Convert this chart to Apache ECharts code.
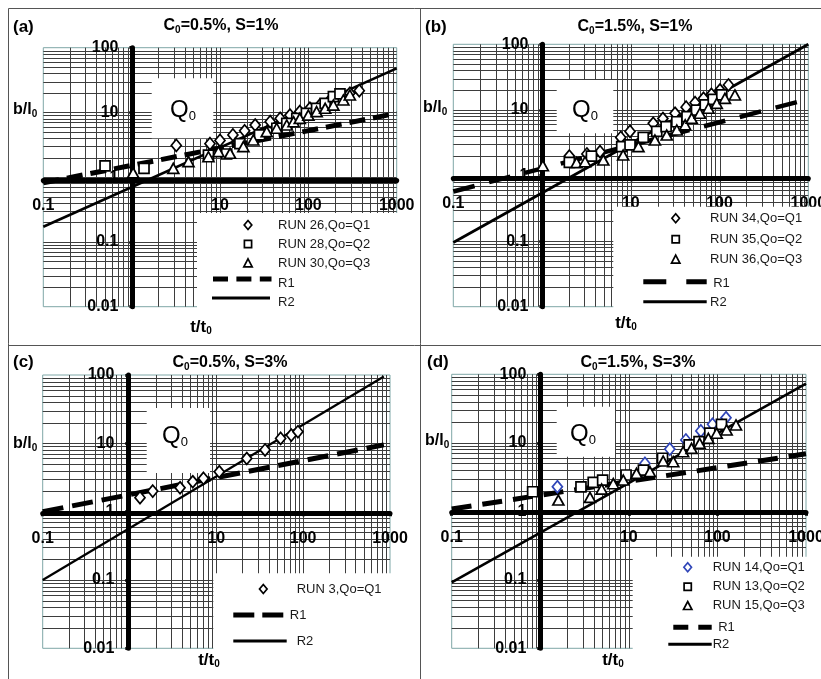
<!DOCTYPE html>
<html>
<head>
<meta charset="utf-8">
<title>b/l0 versus t/t0</title>
<script src="https://cdn.jsdelivr.net/npm/echarts@6.0.0/dist/echarts.min.js"></script>
<style>
  html, body { margin: 0; padding: 0; background: #fff; }
  #chart { width: 821px; height: 679px; }
</style>
</head>
<body>
<div id="chart"></div>
<script>
// ---- axis decades and their tick labels ----
const xRange = [0.1, 1000];
const yRange = [0.01, 100];
const xTickLabels = ['0.1', '1', '10', '100', '1000'];   // 10^-1 .. 10^3
const yTickLabels = ['0.01', '0.1', '1', '10', '100'];   // 10^-2 .. 10^2

// ---- panel captions ----
const panelTags = ['(a)', '(b)', '(c)', '(d)'];
const panelC0 = ['0.5%', '1.5%', '0.5%', '1.5%'];
const panelS = ['1%', '1%', '3%', '3%'];

// ---- measured runs, points are [t/t0, b/l0] ----
// (a) C0 = 0.5 %, S = 1 %
const run26 = [[3.2, 3.1], [7.7, 3.3], [10, 3.7], [14, 4.5], [19, 5.2], [25, 6.4], [37, 7.2], [48, 8.1],
  [62, 9.1], [80, 10.3], [104, 11.6], [135, 13], [176, 15.6], [228, 17.5], [295, 19.8], [377, 21.7]];
const run28 = [[0.5, 1.5], [1.38, 1.37], [7.4, 2.2], [11.9, 2.28], [16.8, 3.3], [28, 4.5], [44, 5.7],
  [57, 6.8], [74, 8.1], [95, 9.7], [124, 11.6], [155, 13.8], [192, 17.5], [228, 19.3]];
const run30 = [[1.04, 1.17], [2.96, 1.37], [4.4, 1.74], [7.4, 2.07], [9.6, 2.48], [13, 2.34], [18.4, 2.96],
  [23.8, 3.76], [33.8, 5.05], [43.8, 5.7], [57, 6.4], [68, 7.2], [80, 8.1], [100, 9.1], [124, 10.3],
  [155, 11.6], [192, 13], [249, 15.6], [295, 18.6]];
// (b) C0 = 1.5 %, S = 1 %
const run34 = [[2.03, 1.98], [3.2, 2.13], [4.5, 2.31], [7.7, 3.8], [9.8, 4.7], [17.9, 6.25], [23, 7.4],
  [31.5, 8.9], [42, 11], [53, 12.9], [66, 15], [81, 17.3], [101, 20.1], [126, 24]];
const run35 = [[2.03, 1.59], [3.6, 1.98], [7.9, 2.75], [9.8, 2.92], [13.8, 3.8], [19.6, 4.7], [25, 5.55],
  [33, 6.6], [43, 7.9], [55, 9.95], [69, 11.9], [85, 14.5], [106, 16.9]];
const run36 = [[1.02, 1.41], [2.45, 1.57], [3.05, 1.62], [4.9, 1.72], [8.2, 2.05], [12.2, 2.75], [18.7, 3.47],
  [25.4, 4.14], [33, 4.94], [41, 5.9], [48.5, 7.45], [60, 8.9], [75, 10.6], [93, 12.6], [115, 15], [149, 16.9]];
// (c) C0 = 0.5 %, S = 3 %
const run3 = [[1.32, 1.6], [1.85, 2.0], [3.82, 2.24], [5.35, 2.74], [7.1, 3.07], [10.8, 3.84], [22.4, 6.0],
  [36.4, 8.0], [55, 11.8], [73, 13.2], [87, 14.8]];
// (d) C0 = 1.5 %, S = 3 %
const run14 = [[1.56, 2.28], [15.2, 5.0], [29, 8.1], [44, 11], [65, 14.9], [88, 18.6], [125, 23.2]];
const run13 = [[0.82, 1.93], [2.88, 2.28], [3.96, 2.65], [5.06, 2.86], [9.3, 3.39], [14.6, 4.0], [24, 5.95],
  [48, 9.3], [62, 10.4], [82, 13.8], [111, 18.6]];
const run15 = [[1.6, 1.46], [3.64, 1.6], [4.93, 2.11], [6.67, 2.53], [8.65, 2.86], [12.2, 3.59], [17.3, 3.79],
  [24.4, 5.42], [31.7, 5.3], [41, 7.4], [51, 8.3], [63, 9.8], [79, 11.6], [98, 13.8], [127, 15.4], [162, 18.2]];

// ---- relations R1 and R2 (straight in log-log), end points [t/t0, b/l0] ----
const r1a = [[0.1, 0.82], [1000, 9.7]];
const r2a = [[0.1, 0.172], [1000, 48]];
const r1b = [[0.1, 0.57], [1000, 14.6]];
const r2b = [[0.1, 0.095], [1000, 100]];
const r1c = [[0.1, 1.0], [850, 9.5]];
const r2c = [[0.1, 0.1], [850, 95]];
const r1d = [[0.1, 1.08], [1000, 6.9]];
const r2d = [[0.1, 0.092], [1000, 73]];

// ---- legend texts ----
const namesA = ['RUN 26,Qo=Q1', 'RUN 28,Qo=Q2', 'RUN 30,Qo=Q3'];
const namesB = ['RUN 34,Qo=Q1', 'RUN 35,Qo=Q2', 'RUN 36,Qo=Q3'];
const namesC = ['RUN 3,Qo=Q1'];
const namesD = ['RUN 14,Qo=Q1', 'RUN 13,Qo=Q2', 'RUN 15,Qo=Q3'];
const relationNames = ['R1', 'R2'];

// marker look, in legend order: diamond, square, triangle
const markerKinds = ['diamond', 'rect', 'triangle'];
const markerSizes = [[10, 12], [10, 10], [11, 10]];
const BLUE = '#2f45b8';

// ---- panel layout ----
const panels = [
  {
    runs: [run26, run28, run30], names: namesA, colors: ['#000', '#000', '#000'], r1: r1a, r2: r2a,
    grid: { left: 43.3, top: 47.7, width: 353.4, height: 259 }, drop: 3, shiftX: 0.8,
    r1Dash: [16, 8], r1Width: 5, r2Width: 2.6,
    tag: [13, 27], title: [221, 26], yName: [13, 110], xName: [201, 327],
    qBox: [151.7, 78.3, 61.6, 60], qText: [183, 110],
    cut: [197, 213, 222, 110],
    leg: { mx: 248, tx: 278, ys: [225, 244, 263], r1: [213, 271.5, 279, 283], r2: [212, 270, 298, 302], dash: [15, 8.4] }
  },
  {
    runs: [run34, run35, run36], names: namesB, colors: ['#000', '#000', '#000'], r1: r1b, r2: r2b,
    grid: { left: 453.3, top: 44.3, width: 355, height: 262.4 }, drop: 2.8, shiftX: 0.4,
    r1Dash: [22, 15], r1Width: 4.5, r2Width: 2.8,
    tag: [425, 27], title: [635, 27], yName: [423, 108], xName: [626, 323],
    qBox: [556.7, 80, 56.6, 53.3], qText: [585, 110],
    cut: [613.3, 206.7, 210, 130],
    leg: { mx: 675.7, tx: 710, ys: [218.3, 239.3, 259.3], r1: [643.3, 706.7, 281.7, 283], r2: [643.3, 706.7, 301.7, 302], dash: [23, 20] }
  },
  {
    runs: [run3], names: namesC, colors: ['#000'], r1: r1c, r2: r2c,
    grid: { left: 42.7, top: 375, width: 347.3, height: 273.3 }, drop: 1.6, shiftX: -1.2,
    r1Dash: [21, 9], r1Width: 5, r2Width: 2.2,
    tag: [13, 362], title: [230, 363], yName: [13, 444], xName: [209, 660],
    qBox: [146.7, 408, 63.3, 65], qText: [175, 436],
    cut: [213.3, 573.3, 206, 110],
    leg: { mx: 263.3, tx: 296.7, ys: [589], r1: [233.3, 283.3, 615, 615], r2: [233.3, 286.7, 641, 641], dash: [21, 8] }
  },
  {
    runs: [run14, run13, run15], names: namesD, colors: [BLUE, '#000', '#000'], r1: r1d, r2: r2d,
    grid: { left: 451.7, top: 374.3, width: 354.3, height: 274 }, drop: 1.4, shiftX: 0,
    r1Dash: [20, 11], r1Width: 5, r2Width: 2.6,
    tag: [427, 362], title: [638, 363], yName: [425, 441], xName: [613, 660],
    qBox: [556.7, 406.7, 58.3, 50], qText: [583, 434],
    cut: [632.7, 556.7, 190, 125],
    leg: { mx: 687.7, tx: 712.7, ys: [567.3, 586.7, 605.7], r1: [673.3, 711.7, 627.3, 627.5], r2: [668.3, 711.7, 644.3, 644.5], dash: [15, 10] }
  }
];

const FONT = '"Liberation Sans", Arial, sans-serif';

// grid line positions 2..9 of every decade (plot edges are drawn by the grid frame)
const xGridValues = [];
for (let e = -1; e <= 2; e++) for (let m = 1; m <= 9; m++) if (!(e === -1 && m === 1)) xGridValues.push(m * Math.pow(10, e));
const yGridValues = [];
for (let e = -2; e <= 1; e++) for (let m = 1; m <= 9; m++) if (!(e === -2 && m === 1)) yGridValues.push(m * Math.pow(10, e));

function decadeIndex(v) { return Math.round(Math.log10(v)); }

const grids = [], xAxes = [], yAxes = [], series = [], graphics = [];

panels.forEach(function (p, i) {
  grids.push({
    left: p.grid.left, top: p.grid.top, width: p.grid.width, height: p.grid.height,
    show: true, borderColor: '#7fa7a7', borderWidth: 1, backgroundColor: 'transparent',
    containLabel: false, outerBoundsMode: 'none'
  });
  const axisFont = { fontFamily: FONT, fontWeight: 'bold', fontSize: 16, color: '#000' };
  xAxes.push({
    type: 'log', logBase: 10, gridIndex: i, min: xRange[0], max: xRange[1], splitNumber: 4,
    position: 'bottom', offset: -(p.grid.height / 2) + p.drop, z: 3,
    axisLine: { show: true, onZero: false, lineStyle: { color: '#000', width: 5 } },
    axisTick: { show: true, length: 3, lineStyle: { color: '#000', width: 3 } },
    axisLabel: Object.assign({
      margin: 17, showMinLabel: true, showMaxLabel: true,
      formatter: function (v) { const k = decadeIndex(v); return k === 0 ? '' : xTickLabels[k + 1]; }
    }, axisFont),
    splitLine: { show: false }, minorTick: { show: false }, minorSplitLine: { show: false }
  });
  yAxes.push({
    type: 'log', logBase: 10, gridIndex: i, min: yRange[0], max: yRange[1], splitNumber: 4,
    position: 'left', offset: -(p.grid.width / 4) - p.shiftX, z: 3,
    axisLine: { show: true, onZero: false, lineStyle: { color: '#000', width: 5 } },
    axisTick: { show: true, length: 3, lineStyle: { color: '#000', width: 3 } },
    axisLabel: Object.assign({
      margin: 14, showMinLabel: true, showMaxLabel: true, padding: [3, 0, 0, 0],
      formatter: function (v) { return yTickLabels[decadeIndex(v) + 2]; }
    }, axisFont),
    splitLine: { show: false }, minorTick: { show: false }, minorSplitLine: { show: false }
  });

  // log grid lines
  const gridItems = [];
  xGridValues.forEach(function (v) { gridItems.push([v, 1, 0]); });
  yGridValues.forEach(function (v) { gridItems.push([1, v, 1]); });
  series.push({
    type: 'custom', xAxisIndex: i, yAxisIndex: i, z: 1, silent: true, data: gridItems,
    renderItem: function (params, api) {
      if (api.value(2) === 0) {
        const a = api.coord([api.value(0), yRange[0]]), b = api.coord([api.value(0), yRange[1]]);
        const x = Math.round(a[0]) + 0.5;
        return { type: 'line', shape: { x1: x, y1: a[1], x2: x, y2: b[1] }, style: { stroke: '#3d3d3d', lineWidth: 1 } };
      }
      const a = api.coord([xRange[0], api.value(1)]), b = api.coord([xRange[1], api.value(1)]);
      const y = Math.round(a[1]) + 0.5;
      return { type: 'line', shape: { x1: a[0], y1: y, x2: b[0], y2: y }, style: { stroke: '#3d3d3d', lineWidth: 1 } };
    }
  });

  // R1 and R2
  series.push({
    type: 'line', name: relationNames[0], xAxisIndex: i, yAxisIndex: i, data: p.r1, symbol: 'none', z: 4, silent: true,
    lineStyle: { color: '#000', width: p.r1Width, type: p.r1Dash, cap: 'butt' }
  });
  series.push({
    type: 'line', name: relationNames[1], xAxisIndex: i, yAxisIndex: i, data: p.r2, symbol: 'none', z: 4, silent: true,
    lineStyle: { color: '#000', width: p.r2Width, type: 'solid' }
  });

  // runs
  p.runs.forEach(function (run, k) {
    series.push({
      type: 'scatter', name: p.names[k], xAxisIndex: i, yAxisIndex: i, data: run, z: 5, silent: true,
      symbol: markerKinds[k], symbolSize: markerSizes[k],
      itemStyle: { color: '#fff', borderColor: p.colors[k], borderWidth: 1.7, opacity: 1 }
    });
  });

  // ---- captions ----
  const subRich = function (size, weight, subSize) {
    return {
      m: { fontFamily: FONT, fontSize: size, fontWeight: weight, lineHeight: size + 2, fill: '#000' },
      s: { fontFamily: FONT, fontSize: subSize, fontWeight: weight, lineHeight: size + 2, verticalAlign: 'bottom', fill: '#000' }
    };
  };
  graphics.push({
    type: 'text', x: p.tag[0], y: p.tag[1], z: 8, silent: true,
    style: { text: panelTags[i], fontFamily: FONT, fontSize: 17, fontWeight: 'bold', fill: '#000', align: 'left', verticalAlign: 'middle' }
  });
  graphics.push({
    type: 'text', x: p.title[0], y: p.title[1], z: 8, silent: true,
    style: { text: '{m|C}{s|0}{m|=' + panelC0[i] + ', S=' + panelS[i] + '}', rich: subRich(16, 'bold', 10), align: 'center', verticalAlign: 'middle' }
  });
  graphics.push({
    type: 'text', x: p.yName[0], y: p.yName[1], z: 8, silent: true,
    style: { text: '{m|b/l}{s|0}', rich: subRich(16, 'bold', 10), align: 'left', verticalAlign: 'middle' }
  });
  graphics.push({
    type: 'text', x: p.xName[0], y: p.xName[1], z: 8, silent: true,
    style: { text: '{m|t/t}{s|0}', rich: subRich(17, 'bold', 10), align: 'center', verticalAlign: 'middle' }
  });

  // white Q0 label box over the grid
  graphics.push({
    type: 'rect', z: 2, silent: true,
    shape: { x: p.qBox[0], y: p.qBox[1], width: p.qBox[2], height: p.qBox[3] },
    style: { fill: '#fff', stroke: null }
  });
  graphics.push({
    type: 'text', x: p.qText[0], y: p.qText[1], z: 2, silent: true,
    style: { text: '{m|Q}{s|0}', rich: subRich(24, 'normal', 13), align: 'center', verticalAlign: 'middle' }
  });

  // white legend area in the lower right corner of the plot
  graphics.push({
    type: 'rect', z: 6, silent: true,
    shape: { x: p.cut[0], y: p.cut[1], width: p.cut[2], height: p.cut[3] },
    style: { fill: '#fff', stroke: null }
  });

  // ---- legend ----
  const L = p.leg;
  p.names.forEach(function (name, k) {
    const cx = L.mx, cy = L.ys[k], col = p.colors[k];
    let shape;
    if (k === 0) shape = { type: 'polygon', shape: { points: [[cx, cy - 4.5], [cx + 3.8, cy], [cx, cy + 4.5], [cx - 3.8, cy]] } };
    else if (k === 1) shape = { type: 'rect', shape: { x: cx - 3.6, y: cy - 3.6, width: 7.2, height: 7.2 } };
    else shape = { type: 'polygon', shape: { points: [[cx, cy - 4.2], [cx + 4.2, cy + 3.8], [cx - 4.2, cy + 3.8]] } };
    shape.z = 7; shape.silent = true;
    shape.style = { fill: '#fff', stroke: col, lineWidth: 1.7 };
    graphics.push(shape);
    graphics.push({
      type: 'text', x: L.tx, y: cy, z: 7, silent: true,
      style: { text: name, fontFamily: FONT, fontSize: 13, fill: '#1a1a1a', align: 'left', verticalAlign: 'middle' }
    });
  });
  graphics.push({
    type: 'line', z: 7, silent: true, shape: { x1: L.r1[0], y1: L.r1[2], x2: L.r1[1], y2: L.r1[2] },
    style: { stroke: '#000', lineWidth: 5, lineDash: L.dash, lineCap: 'butt' }
  });
  graphics.push({
    type: 'text', x: L.r1[1] + 6.5, y: L.r1[3], z: 7, silent: true,
    style: { text: relationNames[0], fontFamily: FONT, fontSize: 13, fill: '#1a1a1a', align: 'left', verticalAlign: 'middle' }
  });
  graphics.push({
    type: 'line', z: 7, silent: true, shape: { x1: L.r2[0], y1: L.r2[2], x2: L.r2[1], y2: L.r2[2] },
    style: { stroke: '#000', lineWidth: 3, lineCap: 'butt' }
  });
  graphics.push({
    type: 'text', x: L.tx, y: L.r2[3], z: 7, silent: true,
    style: { text: relationNames[1], fontFamily: FONT, fontSize: 13, fill: '#1a1a1a', align: 'left', verticalAlign: 'middle' }
  });
});

// panel frame lines
[[8.5, 8.5, 821, 8.5], [8.5, 8.5, 8.5, 679], [420.5, 8.5, 420.5, 679], [8.5, 345.5, 821, 345.5]].forEach(function (s) {
  graphics.push({ type: 'line', z: 9, silent: true, shape: { x1: s[0], y1: s[1], x2: s[2], y2: s[3] }, style: { stroke: '#555', lineWidth: 1 } });
});

const chart = echarts.init(document.getElementById('chart'), null, { renderer: 'canvas', width: 821, height: 679 });
chart.setOption({
  animation: false,
  backgroundColor: '#fff',
  textStyle: { fontFamily: FONT },
  grid: grids,
  xAxis: xAxes,
  yAxis: yAxes,
  series: series,
  graphic: { elements: graphics }
});
</script>
</body>
</html>
